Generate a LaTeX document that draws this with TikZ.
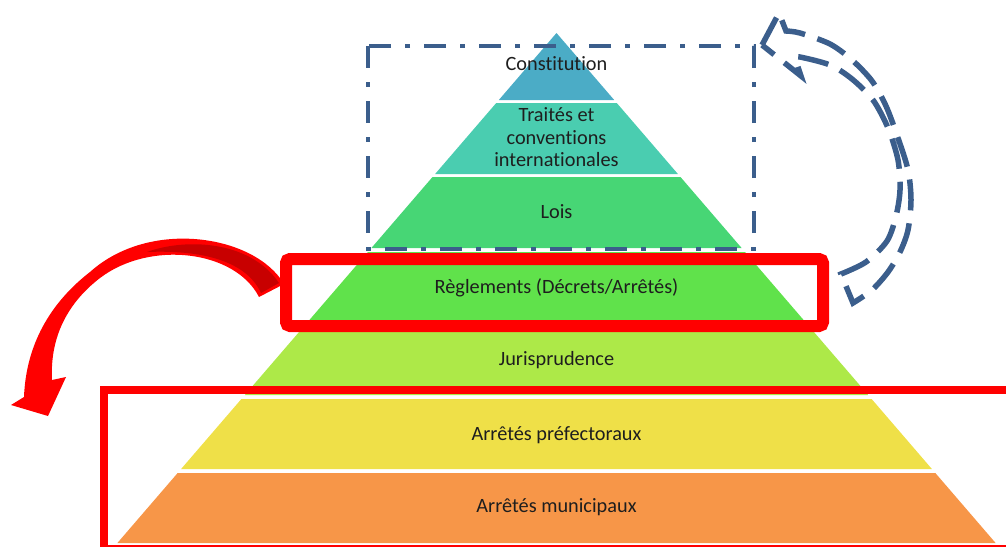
\documentclass[tikz,border=0pt]{standalone}
\usepackage{fontspec}
\setmainfont{Carlito}[Ligatures=NoCommon]
\definecolor{cConst}{HTML}{4BACC6}
\definecolor{cTrait}{HTML}{4ACDB0}
\definecolor{cLois}{HTML}{47D675}
\definecolor{cRegl}{HTML}{60E24B}
\definecolor{cJuris}{HTML}{ADE948}
\definecolor{cPref}{HTML}{EFE048}
\definecolor{cMuni}{HTML}{F79648}
\definecolor{cBlue}{HTML}{3B5E8C}
\definecolor{cRed}{HTML}{FF0000}
\definecolor{cDark}{HTML}{C80000}
\definecolor{cText}{HTML}{1E1E1E}
\newcommand\pband[3]{\fill[#3] ({556.5-0.861*(#1-33)},#1) -- ({556.5+0.861*(#1-33)},#1) -- ({556.5+0.861*(#2-33)},#2) -- ({556.5-0.861*(#2-33)},#2) -- cycle;}
\begin{document}
\begin{tikzpicture}[x=1pt,y=-1pt,
  lbl/.style={font=\fontsize{20.3}{22.5}\selectfont, text=cText, align=center, inner sep=0pt},
  dashdotbox/.style={draw=cBlue, line width=4.5pt, dash pattern=on 22pt off 14pt on 5pt off 14pt},
  bluedash/.style={draw=cBlue, line width=5.5pt, dash pattern=on 31pt off 13pt},
  redbox/.style={draw=cRed, line width=12pt, rounded corners=4pt},
  redframe/.style={draw=cRed, line width=8pt}]
\useasboundingbox (0,0) rectangle (1006,546);
% pyramid bands
\pband{33}{100}{cConst}
\pband{103}{174}{cTrait}
\pband{177}{248}{cLois}
\pband{252}{322}{cRegl}
\pband{326}{395}{cJuris}
\pband{399}{469}{cPref}
\pband{473}{543}{cMuni}
% labels
\node[lbl, anchor=base] (const) at (556.5,70) {Constitution};
\node[lbl] (trait) at (556.5,137.5) {Traités et\\conventions\\internationales};
\node[lbl, anchor=base] (lois) at (556.5,218.3) {Lois};
\node[lbl, anchor=base] (regl) at (556.5,293.3) {Règlements (Décrets/Arrêtés)};
\node[lbl, anchor=base] (juris) at (556.5,365) {Jurisprudence};
\node[lbl, anchor=base] (pref) at (556.5,440) {Arrêtés préfectoraux};
\node[lbl, anchor=base] (muni) at (556.5,512.7) {Arrêtés municipaux};
% blue dash-dot frame
\draw[dashdotbox] (368,46) rectangle (754,249);
% red frames
\draw[redbox] (286,259) rectangle (823,326);
\begin{scope}
\clip (0,0) rectangle (1006,546);
\draw[redframe] (104,390) rectangle (1030,549);
\end{scope}
% red curved arrow
\fill[cRed] (284,284) .. controls (255,235) and (150,218) .. (90,272)
  .. controls (50,303) and (26,345) .. (24,397)
  -- (11,405) -- (48,416) -- (66,377) -- (52,380)
  .. controls (50,340) and (65,305) .. (100,278)
  .. controls (150,240) and (235,250) .. (259,297) -- cycle;
\fill[cDark] (147,252) .. controls (185,238) and (250,240) .. (279,283)
  -- (261,293) .. controls (245,258) and (195,250) .. (147,252) -- cycle;
% blue dashed curved arrow
\draw[bluedash] (762,45) -- (779,13) -- (786,31)
  -- plot[smooth] coordinates {(786,31) (800,33) (830,44) (852,60) (872,81) (886,106) (898,138) (908,170) (911,200) (908,230) (900,252) (888,272) (872,290) (853,303)}
  -- (841,274)
  -- plot[smooth] coordinates {(841,274) (866,262) (887,241) (896,216) (900,190) (898,160) (888,128) (873,100) (852,79) (830,65) (800,57) (795,58)}
  -- (801,76) -- cycle;
\end{tikzpicture}
\end{document}
